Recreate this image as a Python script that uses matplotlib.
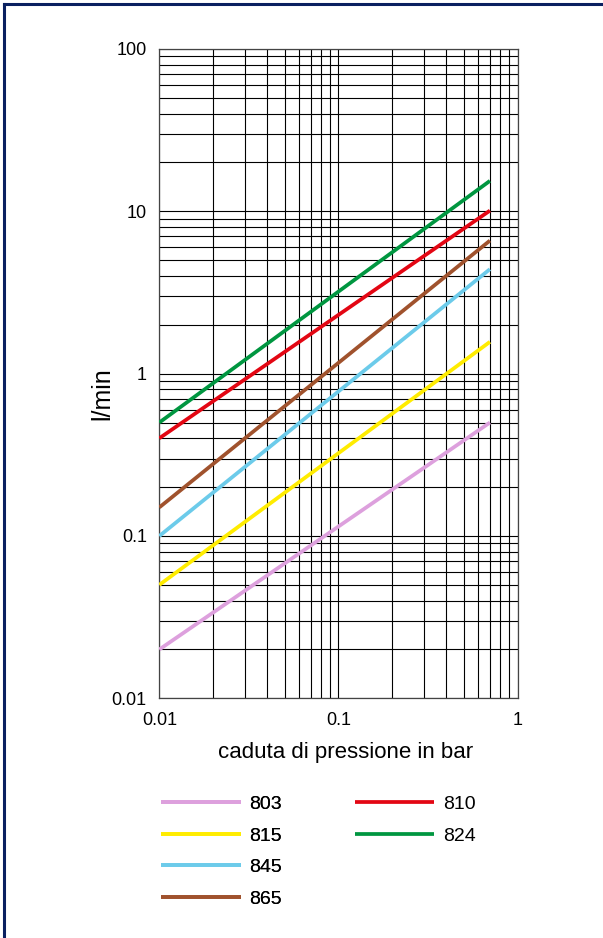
import numpy as np
import matplotlib.pyplot as plt
from matplotlib.lines import Line2D

plt.rcParams['font.family'] = ['Liberation Sans', 'DejaVu Sans']

# data: flow (l/min) at 0.01 bar and at 0.7 bar
x_start = 0.01
x_end = 0.7
names = ['803', '815', '845', '865', '810', '824']
q_start = [0.02, 0.05, 0.1, 0.15, 0.4, 0.5]
q_end = [0.50, 1.57, 4.4, 6.6, 10.1, 15.4]
colors = ['#DDA0DD', '#FFEC00', '#6CCBEA', '#A0522D', '#E30613', '#009640']

x_ticks = [0.01, 0.1, 1]
x_ticklabels = ['0.01', '0.1', '1']
y_ticks = [0.01, 0.1, 1, 10, 100]
y_ticklabels = ['0.01', '0.1', '1', '10', '100']

fig = plt.figure(figsize=(6.03, 9.38), dpi=100)
ax = fig.add_axes([0.2642, 0.2555, 0.5943, 0.6923])

handles = []
for n, a, b, c in zip(names, q_start, q_end, colors):
    h, = ax.plot([x_start, x_end], [a, b], color=c, lw=2.7, solid_capstyle='butt', zorder=3, label=n)
    handles.append(h)

ax.set_xscale('log')
ax.set_yscale('log')
ax.set_xlim(0.01, 1)
ax.set_ylim(0.01, 100)
ax.set_xticks(x_ticks)
ax.set_xticklabels(x_ticklabels)
ax.set_yticks(y_ticks)
ax.set_yticklabels(y_ticklabels)
ax.grid(True, which='both', color='black', lw=0.8)
ax.tick_params(which='both', length=0, labelsize=13)
ax.tick_params(axis='x', pad=10)
ax.tick_params(axis='y', pad=9)
for s in ax.spines.values():
    s.set_color('#444444')
    s.set_linewidth(0.9)

ax.set_xlabel('caduta di pressione in bar', fontsize=16)
ax.xaxis.set_label_coords(0.52, -0.068)
ax.set_ylabel('l/min', fontsize=18)
ax.yaxis.set_label_coords(-0.125, 0.47)

leg1 = fig.legend(handles=handles[:4], loc='upper left', bbox_to_anchor=(0.267, 0.152),
                  frameon=False, fontsize=14, handlelength=4.1, handletextpad=0.45,
                  labelspacing=0.72, borderpad=0, borderaxespad=0)
leg2 = fig.legend(handles=handles[4:], loc='upper left', bbox_to_anchor=(0.588, 0.152),
                  frameon=False, fontsize=14, handlelength=4.1, handletextpad=0.45,
                  labelspacing=0.72, borderpad=0, borderaxespad=0)
fig.add_artist(leg1)

# navy frame (top and left edges visible)
fig.add_artist(Line2D([0.0066, 1], [0.9957, 0.9957], transform=fig.transFigure, color='#0A2060', lw=2.2))
fig.add_artist(Line2D([0.0066, 0.0066], [0, 0.9957], transform=fig.transFigure, color='#0A2060', lw=2.2))

fig.savefig('out.png', dpi=100)
